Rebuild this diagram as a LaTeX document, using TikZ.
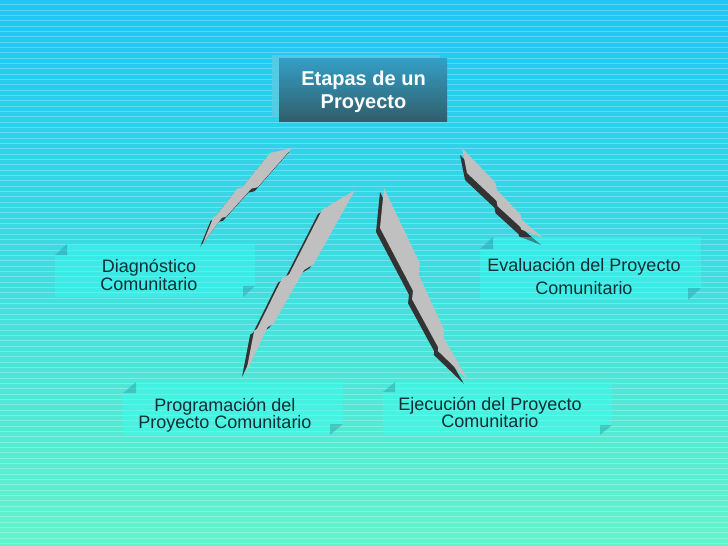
\documentclass[tikz,border=0pt]{standalone}
\usepackage{fontspec}
\setmainfont{Liberation Sans}
\usetikzlibrary{calc}
\definecolor{bgtop}{HTML}{1DC6F3}
\definecolor{bgmid}{HTML}{2EDFEA}
\definecolor{bgbot}{HTML}{62F4CB}
\definecolor{boltlight}{HTML}{C0C0C0}
\definecolor{boltdark}{HTML}{333333}
\definecolor{facecol}{HTML}{38FFF2}
\definecolor{notchcol}{HTML}{2A9DA8}
\definecolor{boxtext}{HTML}{0F3034}
\definecolor{titletop}{HTML}{349FC6}
\definecolor{titlebot}{HTML}{315E6B}
\definecolor{titleback}{HTML}{5ACBE3}
\newcommand{\boltq}[2]{($($(bA)!#1!(bT)$)!#2!($(bB)!#1!(bT)$)$)}
\newcommand{\boltpath}{\boltq{0}{0} -- \boltq{0}{1} -- \boltq{0.42}{1.233} -- \boltq{0.42}{0.738} -- \boltq{0.72}{0.679} -- \boltq{0.72}{0.032} -- (bT) -- \boltq{0.68}{-1.531} -- \boltq{0.68}{-1.256} -- \boltq{0.38}{-0.548} -- \boltq{0.38}{-0.197} -- cycle}
\newcommand{\drawbolt}[5]{%
  \coordinate (bA) at #1; \coordinate (bB) at #2; \coordinate (bT) at #3;
  \begin{scope}[transform canvas={xshift=#4pt,yshift=#5pt}]\fill[boltdark] \boltpath;\end{scope}
  \fill[boltlight] \boltpath;}
\newcommand{\ribbon}[6]{%
  \fill[facecol, fill opacity=0.42] (#1,#4) -- (#1,#2) -- ({#1+#5},#2) -- ({#1+#5},{#2+#6}) -- ({#3+#5},{#2+#6}) -- ({#3+#5},{#4+#6}) -- (#3,{#4+#6}) -- (#3,#4) -- cycle;
  \fill[notchcol, fill opacity=0.45] (#1,#2) -- ({#1+#5},{#2+#6}) -- ({#1+#5},#2) -- cycle;
  \fill[notchcol, fill opacity=0.45] (#3,#4) -- ({#3+#5},{#4+#6}) -- (#3,{#4+#6}) -- cycle;}
\newcommand{\tl}[2]{\rule{0pt}{15pt}#1\\#2\rule[-6pt]{0pt}{6pt}}
\newcommand{\tightlines}{\lineskiplimit-20pt\relax}
\newcommand{\boxfont}[1]{\fontsize{18}{#1}\selectfont\tightlines}
\newcommand{\titlefont}{\fontsize{20}{23.3}\selectfont\bfseries\tightlines}
\tikzset{boxtxt/.style={text=boxtext, align=center, inner sep=0pt}}
\begin{document}
\begin{tikzpicture}[x=1pt,y=-1pt]
\useasboundingbox (0,0) rectangle (728,546);
% background
\shade[top color=bgtop, middle color=bgmid, bottom color=bgbot] (0,0) rectangle (728,546);
\foreach \i in {0,...,102} \draw[white, opacity=0.26, line width=0.9pt] (0,{4.7+5.333*\i}) -- (728,{4.7+5.333*\i});
% title box
\fill[titleback, fill opacity=0.85] (272,55) rectangle (440,117);
\shade[top color=titletop, bottom color=titlebot] (279,58) rectangle (447,121);
\node[text=white, align=center, inner sep=0pt, font=\titlefont] (title) at (363.5,92.2) {\tl{Etapas de un}{Proyecto}};
% bolts
\drawbolt{(270,153)}{(292,148)}{(203,243)}{-3}{-4}
\drawbolt{(322,210)}{(355,190)}{(246,373)}{-4}{-4}
\drawbolt{(380,228)}{(384,188)}{(468,380)}{-4}{-4}
\drawbolt{(467,173)}{(462,148)}{(543,238)}{-2}{-7}
% stage boxes
\ribbon{55}{255}{243}{297}{12}{-11}
\ribbon{123}{393}{330}{435}{13}{-11}
\ribbon{383}{392}{600}{435}{12}{-10}
\ribbon{480}{249}{688}{300}{13}{-12}
\node[boxtxt, font=\boxfont{18}] (diag) at (149,277.2) {\tl{Diagnóstico}{Comunitario}};
\node[boxtxt, font=\boxfont{17.3}] (prog) at (225,415.2) {\tl{Programación del}{Proyecto Comunitario}};
\node[boxtxt, font=\boxfont{16.8}] (ejec) at (490,414.5) {\tl{Ejecución del Proyecto}{Comunitario}};
\node[boxtxt, font=\boxfont{22.6}] (eval) at (584,278.5) {\tl{Evaluación del Proyecto}{Comunitario}};
\end{tikzpicture}
\end{document}
